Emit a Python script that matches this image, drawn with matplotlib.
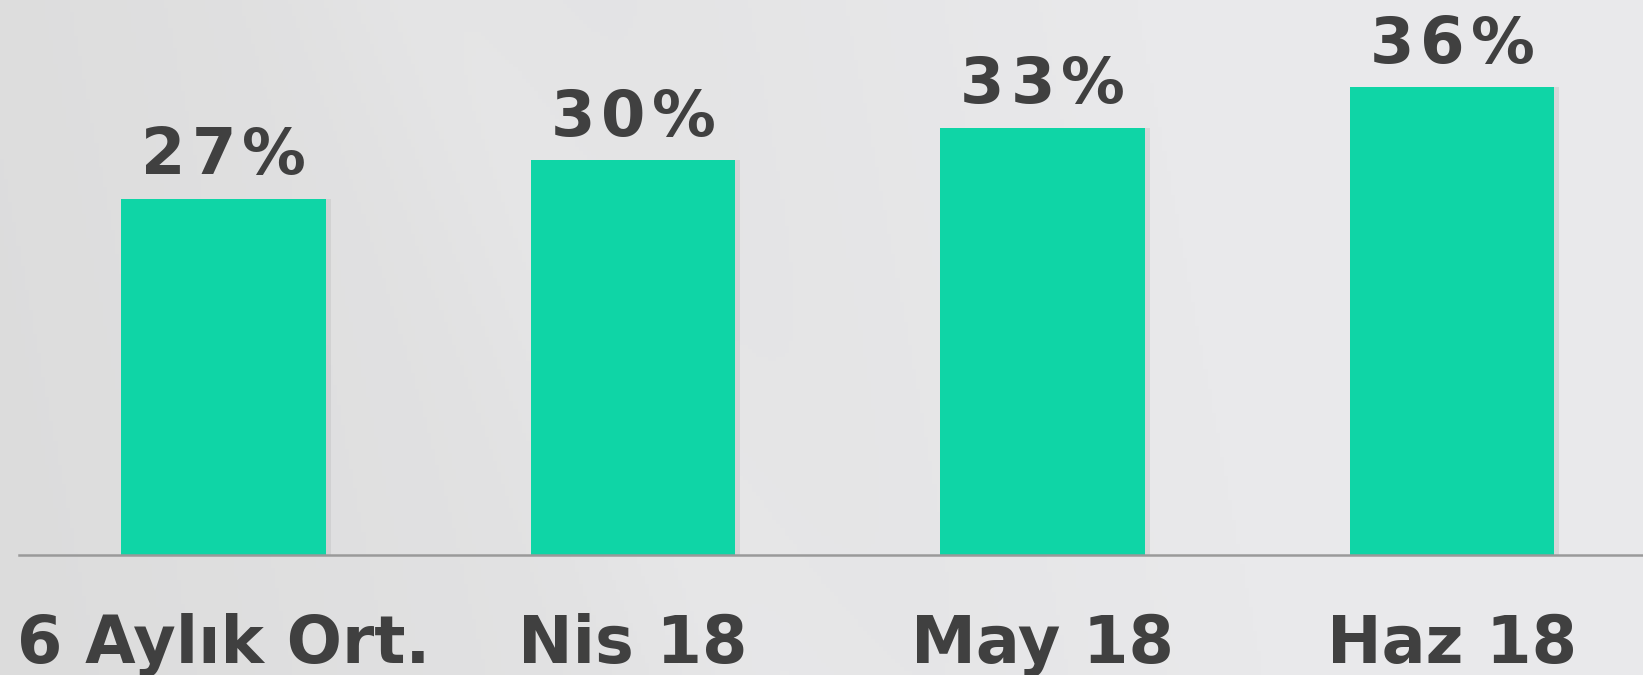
import numpy as np
import matplotlib
matplotlib.use("Agg")
import matplotlib.pyplot as plt
from matplotlib.colors import to_rgb

categories = ["6 Aylık Ort.", "Nis 18", "May 18", "Haz 18"]
values = [27.4, 30.4, 32.9, 36.0]
labels = ["27%", "30%", "33%", "36%"]

W, H, DPI = 1643, 675, 100
fig = plt.figure(figsize=(W / DPI, H / DPI), dpi=DPI)

# background gradient
bg = fig.add_axes([0, 0, 1, 1], zorder=0)
bg.set_axis_off()
xx, yy = np.meshgrid(np.linspace(0, 1, 400), np.linspace(0, 1, 170))
c0 = np.array(to_rgb("#dcdcdc"))
c1 = np.array(to_rgb("#e9e9eb"))
t = np.clip(xx * 1.3 + 0.1 * (1 - yy), 0, 1)
img = c0[None, None, :] * (1 - t[..., None]) + c1[None, None, :] * t[..., None]
d = (xx * W - (430 + yy * 600 * 0.55)) / 120.0
band = np.exp(-d ** 2) * 0.012
img = np.clip(img + band[..., None], 0, 1)
bg.imshow(img, extent=[0, 1, 0, 1], aspect="auto", origin="upper")
bg.set_xlim(0, 1)
bg.set_ylim(0, 1)

left_px, right_px = 19.0, 1656.6
base_px = 555.0
unit_px = 12.99
top_px = base_px - 40 * unit_px
ax = fig.add_axes([left_px / W, (H - base_px) / H,
                   (right_px - left_px) / W, (base_px - top_px) / H], zorder=1)
ax.patch.set_alpha(0)
x = np.arange(len(categories))

ax.bar(x + 0.012, values, width=0.5, color="#b8b8b8", alpha=0.35, zorder=1)
ax.bar(x, values, width=0.5, color="#0fd5a6", zorder=2)

ax.set_xlim(-0.5, 3.5)
ax.set_ylim(0, 40)
for s in ["top", "right", "left"]:
    ax.spines[s].set_visible(False)
ax.spines["bottom"].set_color("#9a9a9a")
ax.spines["bottom"].set_linewidth(1.8)
ax.spines["bottom"].set_zorder(3)
ax.set_yticks([])
ax.set_xticks(x)
ax.set_xticklabels(categories, fontsize=47, fontweight="bold", color="#404040",
                   family="DejaVu Sans")
ax.tick_params(axis="x", length=0, pad=77.8)
for lab in ax.get_xticklabels():
    lab.set_verticalalignment("baseline")

# value labels with slight letter spacing
renderer = fig.canvas.get_renderer()
fkw = dict(fontsize=46, fontweight="bold", color="#404040", family="DejaVu Sans")


def text_w(s):
    tt = fig.text(0, 0, s, **fkw)
    w = tt.get_window_extent(renderer).width
    tt.remove()
    return w


spacing_px = 6.0
for xi, v, lab in zip(x, values, labels):
    n = len(lab)
    total = text_w(lab) + spacing_px * (n - 1)
    for i, ch in enumerate(lab):
        origin = text_w(lab[:i + 1]) - text_w(ch) + i * spacing_px
        off_px = origin - total / 2
        ax.annotate(ch, xy=(xi, v), xytext=(off_px * 72 / DPI, 17.7),
                    textcoords="offset points", ha="left", va="baseline",
                    annotation_clip=False, **fkw)

fig.savefig("out.png", dpi=DPI)
